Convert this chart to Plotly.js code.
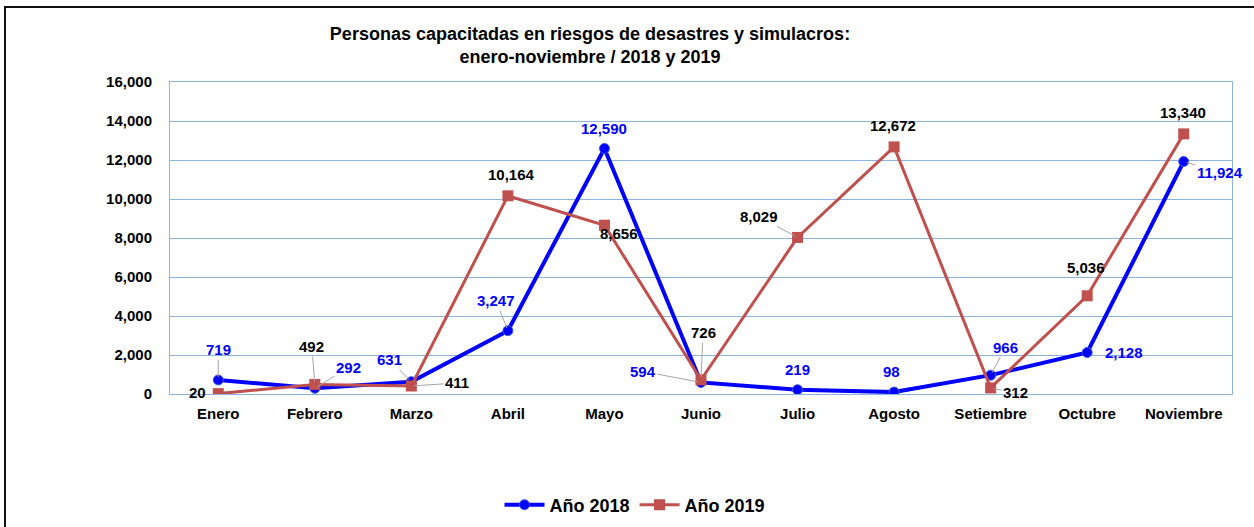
<!DOCTYPE html>
<html>
<head>
<meta charset="utf-8">
<script src="https://cdn.plot.ly/plotly-3.0.1.min.js"></script>
<style>
  html, body { margin: 0; padding: 0; background: #fff; overflow: hidden; }
  #wrap { position: relative; width: 1254px; height: 527px; }
  #frame { position: absolute; left: 4px; top: 6px; width: 1300px; height: 600px;
           border: 2px solid #111; box-sizing: border-box; pointer-events: none; }
  #chart { position: absolute; left: 0; top: 0; width: 1254px; height: 527px; }
</style>
</head>
<body>
<div id="wrap">
  <div id="chart"></div>
  <div id="frame"></div>
</div>
<script>
// meses
const months = ["Enero", "Febrero", "Marzo", "Abril", "Mayo", "Junio", "Julio",
  "Agosto", "Setiembre", "Octubre", "Noviembre"];
const values2018 = [719, 292, 631, 3247, 12590, 594, 219, 98, 966, 2128, 11924];
const values2019 = [20, 492, 411, 10164, 8656, 726, 8029, 12672, 312, 5036, 13340];

const BLUE = "#0000ff";
const RED = "#c0504d";
const GRID = "#8db3e2";
const FONT = "Liberation Sans, Arial, sans-serif";

// offsets of labels (px) -> [dx, dy, leader line?]
const off2018 = [[0, -30, true], [34, -21, true], [-22, -22, true], [-12, -30, true],
  [0, -20, false], [-58, -11, true], [0, -20, false], [-3, -21, false],
  [15, -28, true], [37, 0, false], [36, 11, true]];
const off2019 = [[-21, -1, false], [-3, -38, true], [46, -3, true], [4, -21, false],
  [15, 8, false], [2, -47, true], [-39, -21, true], [-1, -21, false],
  [25, 5, true], [-1, -28, false], [-1, -21, false]];

const fmt = (v) => v.toLocaleString("en-US");

function makeLabels(vals, offs, color) {
  return vals.map((v, i) => {
    const [dx, dy, line] = offs[i];
    const a = {
      x: months[i], y: v, xref: "x", yref: "y",
      text: "<b>" + fmt(v) + "</b>",
      font: { family: FONT, size: 15, color: color },
    };
    if (line) {
      a.showarrow = true;
      a.arrowhead = 0;
      a.arrowwidth = 1;
      a.arrowcolor = "#a6a6a6";
      a.standoff = 3;
      a.ax = dx;
      a.ay = dy;
    } else {
      a.showarrow = false;
      a.xshift = dx;
      a.yshift = -dy;
    }
    return a;
  });
}

const traces = [
  {
    type: "scatter",
    mode: "lines+markers",
    x: months,
    y: values2018,
    name: "<b>Año 2018</b>",
    line: { color: BLUE, width: 4 },
    marker: { symbol: "circle", size: 10, color: BLUE, line: { color: "#3b5bdb", width: 1 } },
  },
  {
    type: "scatter",
    mode: "lines+markers",
    x: months,
    y: values2019,
    name: "<b>Año 2019</b>",
    line: { color: RED, width: 3 },
    marker: { symbol: "square", size: 11, color: RED },
  },
];

const layout = {
  width: 1254,
  height: 527,
  paper_bgcolor: "rgba(0,0,0,0)",
  plot_bgcolor: "#fff",
  margin: { l: 170, r: 22, t: 82, b: 133 },
  font: { family: FONT, color: "#000" },
  title: {
    text: "<b>Personas capacitadas en riesgos de desastres y simulacros:<br>enero-noviembre / 2018 y 2019</b>",
    font: { family: FONT, size: 18, color: "#000" },
    xref: "container", x: 0.4705, xanchor: "center",
    yref: "container", y: 1 - 40 / 527, yanchor: "top",
  },
  xaxis: {
    type: "category",
    range: [-0.5, 10.5],
    showgrid: false,
    showline: true,
    linecolor: GRID,
    linewidth: 1,
    mirror: true,
    ticks: "",
    ticklabelstandoff: 6,
    tickfont: { family: FONT, size: 15, color: "#000", weight: "bold" },
    fixedrange: true,
  },
  yaxis: {
    range: [0, 16000],
    dtick: 2000,
    tickformat: ",",
    showgrid: true,
    gridcolor: GRID,
    gridwidth: 1,
    zeroline: false,
    showline: true,
    linecolor: GRID,
    mirror: true,
    ticks: "",
    ticklabelstandoff: 14,
    tickfont: { family: FONT, size: 15, color: "#000", weight: "bold" },
    fixedrange: true,
  },
  legend: {
    orientation: "h",
    xref: "container", x: 635 / 1254, xanchor: "center",
    yref: "container", y: 1 - 505 / 527, yanchor: "middle",
    font: { family: FONT, size: 18, color: "#000" },
    itemwidth: 40,
  },
  annotations: [
    ...makeLabels(values2018, off2018, BLUE),
    ...makeLabels(values2019, off2019, "#000"),
  ],
};

Plotly.newPlot("chart", traces, layout, { displayModeBar: false, staticPlot: true });
</script>
</body>
</html>
